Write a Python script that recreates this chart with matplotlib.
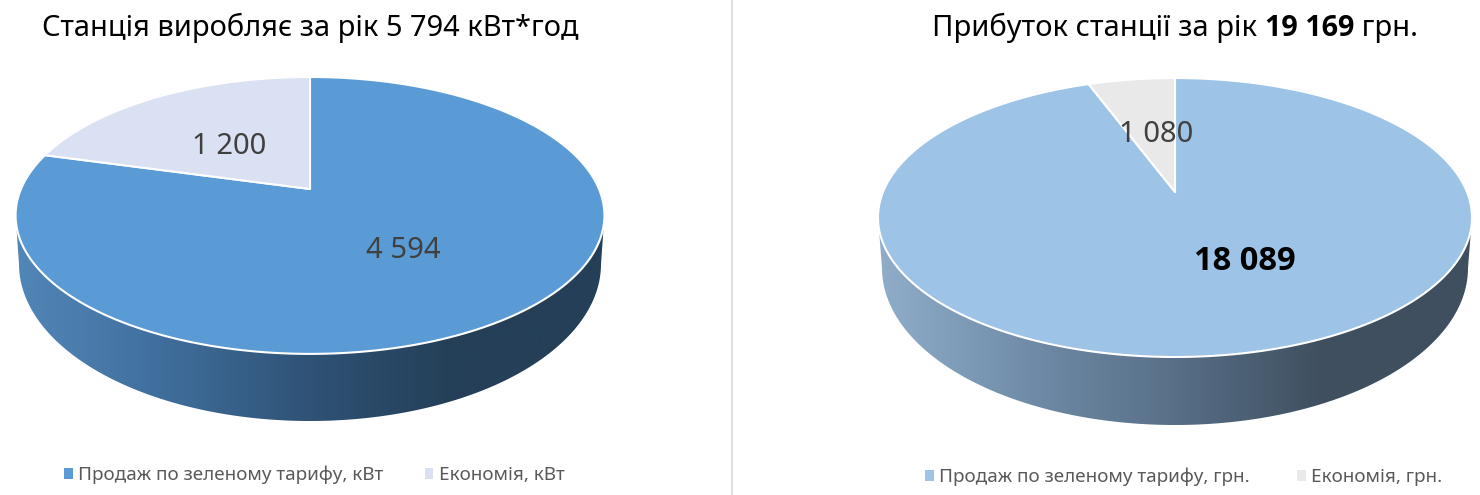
import numpy as np
import matplotlib
matplotlib.use("Agg")
import matplotlib.pyplot as plt
from matplotlib.colors import LinearSegmentedColormap
from matplotlib.patches import Patch, Polygon

plt.rcParams['font.family'] = ['Noto Sans', 'DejaVu Sans']

# data
left_names = ["Продаж по зеленому тарифу, кВт", "Економія, кВт"]
left_values = [4594, 1200]
left_labels = ["4 594", "1 200"]

right_names = ["Продаж по зеленому тарифу, грн.", "Економія, грн."]
right_values = [18089, 1080]
right_labels = ["18 089", "1 080"]

W, H = 1480, 495
BOLD = ['Open Sans', 'Liberation Sans', 'DejaVu Sans']


def disk_xy(theta, g):
    # circle seen in perspective, theta clockwise from the top
    u, v = np.sin(theta), np.cos(theta)
    w = 1 + g["k"] * v
    return g["cx"] + g["r"] * u / w, g["cy"] - g["s"] * v / w


def draw_pie(ax, values, colors, g, wall_colors):
    # side wall first, the top disk goes over it
    cmap = LinearSegmentedColormap.from_list("wall", wall_colors)
    grad = np.linspace(0, 1, 400).reshape(1, -1)
    t = np.linspace(np.pi, 2 * np.pi, 200)
    bx = g["cx"] + g["brx"] * np.cos(t)
    by = g["bcy"] - g["bry"] * np.sin(t)
    outline = np.column_stack([bx, by])
    outline = np.vstack([[g["cx"] - g["rx"], g["tcy"]], outline, [g["cx"] + g["rx"], g["tcy"]]])
    clip = Polygon(outline, closed=True, transform=ax.transData, fc="none", ec="none")
    ax.add_patch(clip)
    im = ax.imshow(grad, cmap=cmap, aspect="auto", zorder=1,
                   extent=(g["cx"] - g["rx"], g["cx"] + g["rx"], g["bcy"] + g["bry"] + 2, g["tcy"] - 5))
    im.set_clip_path(clip)

    # wedges go clockwise from 12 o'clock
    total = sum(values)
    start = 0.0
    for val, col in zip(values, colors):
        end = start + val / total * 2 * np.pi
        a = np.linspace(start, end, 300)
        x, y = disk_xy(a, g)
        pts = np.vstack([[g["cx"], g["cy"]], np.column_stack([x, y])])
        ax.add_patch(Polygon(pts, closed=True, fc=col, ec="white", lw=1.5, zorder=2, joinstyle="round"))
        start = end


def setup_axes(fig, x0, x1):
    ax = fig.add_axes([x0 / W, 0, (x1 - x0) / W, 1])
    ax.set_xlim(x0, x1)
    ax.set_ylim(H, 0)
    ax.axis("off")
    return ax


def add_legend(ax, names, colors, x, y, spacing):
    handles = [Patch(fc=c, ec="none") for c in colors]
    ax.legend(handles, names, ncol=2, loc="center left", bbox_to_anchor=(x, y),
              bbox_transform=ax.transData, frameon=False, fontsize=13.6,
              labelcolor="#595959", handlelength=0.45, handleheight=0.45,
              handletextpad=0.3, columnspacing=spacing, borderpad=0, borderaxespad=0)


fig = plt.figure(figsize=(W / 100, H / 100), dpi=100)
fig.patch.set_facecolor("white")

# left panel
ax1 = setup_axes(fig, 0, 740)
g1 = dict(cx=310, cy=189, r=289, s=133.4, k=0.191, rx=294.5, tcy=215, brx=291, bcy=264, bry=157)
left_colors = ["#5B9BD5", "#D9E1F2"]
draw_pie(ax1, left_values, left_colors, g1, ["#5286B8", "#3F6E9C", "#2F5275", "#243F57", "#243F57"])
ax1.text(310, 28, "Станція виробляє за рік 5 794 кВт*год", fontsize=20.9, color="black",
         ha="center", va="center")
ax1.text(403, 251, left_labels[0], fontsize=21, color="#404040", ha="center", va="center", zorder=3)
ax1.text(229, 146, left_labels[1], fontsize=21, color="#404040", ha="center", va="center", zorder=3)
add_legend(ax1, left_names, left_colors, 64, 475, 2.2)
ax1.plot([732, 732], [0, H], color="#D9D9D9", lw=1.2)

# right panel
ax2 = setup_axes(fig, 740, 1480)
g2 = dict(cx=1175, cy=192, r=292, s=134.8, k=0.183, rx=297, tcy=217, brx=293, bcy=268, bry=157)
right_colors = ["#9DC3E6", "#E9E9E9"]
draw_pie(ax2, right_values, right_colors, g2, ["#8FADC9", "#708CA8", "#586F87", "#3F4F5F", "#3F4F5F"])
t1 = ax2.text(932, 28, "Прибуток станції за рік ", fontsize=21, color="black", ha="left", va="center")
t2 = ax2.annotate("19 169", xy=(1, 0), xycoords=t1, va="bottom", ha="left",
                  fontsize=20.7, family=BOLD, fontweight="bold", color="black")
ax2.annotate(" грн.", xy=(1, 0), xycoords=t2, va="bottom", ha="left", fontsize=21, color="black")
ax2.text(1245, 261, right_labels[0], fontsize=23.5, family=BOLD, fontweight="bold", color="black",
         ha="center", va="center", zorder=3)
ax2.text(1156, 135, right_labels[1], fontsize=21, color="#404040", ha="center", va="center", zorder=3)
add_legend(ax2, right_names, right_colors, 925, 477, 2.5)

fig.savefig("out.png", dpi=100)
